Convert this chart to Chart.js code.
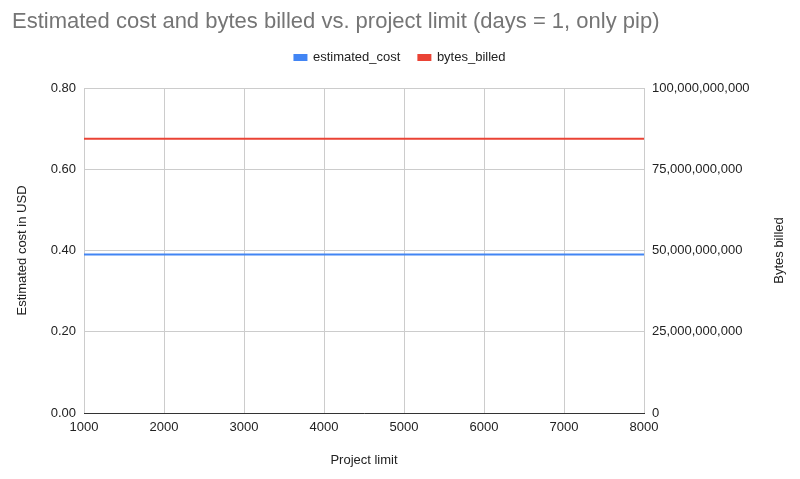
<!DOCTYPE html>
<html>
<head>
<meta charset="utf-8">
<script src="https://cdn.jsdelivr.net/npm/chart.js@4"></script>
<style>
  html, body { margin: 0; padding: 0; background: #fff; }
  #wrap { width: 800px; height: 479px; }
</style>
</head>
<body>
<div id="wrap"><canvas id="costChart" width="800" height="479"></canvas></div>
<script>
// chart data
const chartTitle = 'Estimated cost and bytes billed vs. project limit (days = 1, only pip)';
const projectLimits = [1000, 2000, 3000, 4000, 5000, 6000, 7000, 8000];
const estimatedCost = [0.39, 0.39, 0.39, 0.39, 0.39, 0.39, 0.39, 0.39];
const bytesBilled = [84400000000, 84400000000, 84400000000, 84400000000, 84400000000, 84400000000, 84400000000, 84400000000];
const leftTicks = [0, 0.2, 0.4, 0.6, 0.8];
const rightTicks = [0, 25000000000, 50000000000, 75000000000, 100000000000];
const xTitle = 'Project limit';
const leftTitle = 'Estimated cost in USD';
const rightTitle = 'Bytes billed';

const FONT = 'Arial, "Liberation Sans", sans-serif';
const GRID = '#cccccc';

// right axis title reads bottom-to-top like the left one, so draw it ourselves
const rightTitlePlugin = {
  id: 'rightTitle',
  afterDraw(chart) {
    const { ctx, chartArea } = chart;
    ctx.save();
    ctx.translate(779, (chartArea.top + chartArea.bottom) / 2);
    ctx.rotate(-Math.PI / 2);
    ctx.font = '13px ' + FONT;
    ctx.fillStyle = '#222222';
    ctx.textAlign = 'center';
    ctx.textBaseline = 'middle';
    ctx.fillText(rightTitle, 0, 0);
    ctx.restore();
  }
};

new Chart(document.getElementById('costChart'), {
  type: 'line',
  data: {
    datasets: [{
      label: 'estimated_cost',
      data: projectLimits.map((x, i) => ({ x: x, y: estimatedCost[i] })),
      yAxisID: 'y',
      borderColor: '#4285f4',
      backgroundColor: '#4285f4',
      borderWidth: 2,
      pointRadius: 0
    }, {
      label: 'bytes_billed',
      data: projectLimits.map((x, i) => ({ x: x, y: bytesBilled[i] })),
      yAxisID: 'y1',
      borderColor: '#ea4335',
      backgroundColor: '#ea4335',
      borderWidth: 2,
      pointRadius: 0
    }]
  },
  plugins: [rightTitlePlugin],
  options: {
    responsive: false,
    animation: false,
    layout: { padding: { left: 12, right: 12, top: 0, bottom: 0 } },
    plugins: {
      title: {
        display: true,
        text: chartTitle,
        align: 'start',
        color: '#757575',
        font: { family: FONT, size: 22, weight: 'normal', lineHeight: 1 },
        padding: { top: 11, bottom: 0 }
      },
      subtitle: {
        // empty spacer between legend and plot
        display: true,
        text: '',
        weight: 500,
        font: { size: 10, lineHeight: 1.2 },
        padding: { top: 0, bottom: 2 }
      },
      legend: {
        display: true,
        position: 'top',
        labels: {
          boxWidth: 12,
          boxHeight: 5,
          padding: 18,
          color: '#222222',
          font: { family: FONT, size: 13 }
        }
      },
      tooltip: { enabled: false }
    },
    scales: {
      x: {
        type: 'linear',
        min: 1000,
        max: 8000,
        afterFit: (s) => { s.height = 66; },
        afterBuildTicks: (s) => { s.ticks = projectLimits.map(v => ({ value: v })); },
        ticks: {
          padding: 7,
          color: '#222222',
          font: { family: FONT, size: 13 },
          maxRotation: 0,
          callback: (v) => String(v)
        },
        grid: { color: GRID, drawTicks: false },
        border: { color: '#333333', width: 1 },
        title: {
          display: true,
          text: xTitle,
          color: '#222222',
          font: { family: FONT, size: 13 },
          padding: { top: 0, bottom: 11 }
        }
      },
      y: {
        position: 'left',
        min: 0,
        max: 0.8,
        afterFit: (s) => { s.width = 72; },
        afterBuildTicks: (s) => { s.ticks = leftTicks.map(v => ({ value: v })); },
        ticks: {
          padding: 8,
          color: '#222222',
          font: { family: FONT, size: 13 },
          callback: (v) => Number(v).toFixed(2)
        },
        grid: { color: GRID, drawTicks: false },
        border: { display: false },
        title: {
          display: true,
          text: leftTitle,
          color: '#222222',
          font: { family: FONT, size: 13 },
          padding: { top: 3, bottom: 0 }
        }
      },
      y1: {
        position: 'right',
        min: 0,
        max: 100000000000,
        afterFit: (s) => { s.width = 144; },
        afterBuildTicks: (s) => { s.ticks = rightTicks.map(v => ({ value: v })); },
        ticks: {
          padding: 8,
          color: '#222222',
          font: { family: FONT, size: 13 },
          callback: (v) => Number(v).toLocaleString('en-US')
        },
        grid: { display: false, drawTicks: false },
        border: { display: false }
      }
    }
  }
});
</script>
</body>
</html>
